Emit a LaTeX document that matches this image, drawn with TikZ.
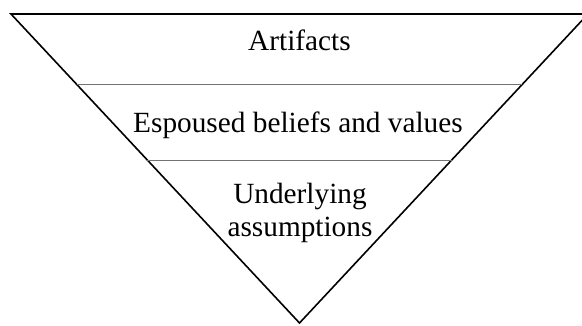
\documentclass[tikz,border=0pt]{standalone}
\usepackage{fontspec}
\setmainfont{Liberation Serif}
\usetikzlibrary{calc}
\begin{document}
\begin{tikzpicture}[x=1pt,y=-1pt,
  outline/.style={draw=black,line width=1.6pt,line join=miter},
  divider/.style={draw=black!55,line width=1pt},
  layer/.style={font=\fontsize{29.3}{33}\selectfont,inner sep=0pt,align=center}]
  \useasboundingbox (0,0) rectangle (582,325);
  % corners of the inverted triangle
  \coordinate (tl) at (11,14);
  \coordinate (tr) at (588,14);
  \coordinate (apex) at (299.5,323);
  \draw[outline] (tl) -- (tr) -- (apex) -- cycle;
  % layer boundaries
  \coordinate (l1) at ($(tl)!0.2282!(apex)$);
  \coordinate (r1) at ($(tr)!0.2282!(apex)$);
  \coordinate (l2) at ($(tl)!0.4725!(apex)$);
  \coordinate (r2) at ($(tr)!0.4725!(apex)$);
  \draw[divider] (l1) -- (r1);
  \draw[divider] (l2) -- (r2);
  % layer labels
  \node[layer,anchor=base] (artifacts) at (299.5,50.5) {Artifacts};
  \node[layer,anchor=base] (beliefs) at (298,132) {Espoused beliefs and values};
  \node[layer] (assumptions) at (300,213) {Underlying\\assumptions};
\end{tikzpicture}
\end{document}
